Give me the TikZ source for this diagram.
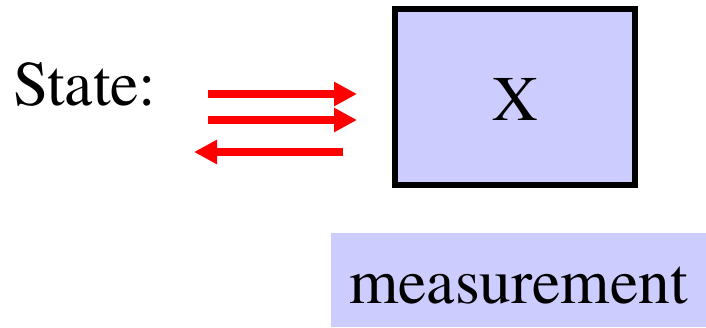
\documentclass[tikz,border=0pt]{standalone}
\usepackage{fontspec}
\newfontfamily\timesfont{texgyretermes}[Extension=.otf, UprightFont=*-regular]
\usetikzlibrary{arrows.meta}
\definecolor{boxfill}{RGB}{204,204,255}
\tikzset{
  bigtext/.style={font=\timesfont\fontsize{63.5}{70}\selectfont},
  redarrow/.style={draw=red, line width=8pt, -{Triangle[length=23pt,width=23pt]}},
}
\begin{document}
\begin{tikzpicture}[x=1pt,y=-1pt]
\useasboundingbox (0,0) rectangle (706,327);
\node[bigtext, anchor=base west, inner sep=0pt] (state) at (13,105) {State:};
\node[bigtext, draw=black, line width=6pt, fill=boxfill, minimum width=240pt, minimum height=176pt, inner sep=0pt, text height=46pt, text depth=0pt] (X) at (515,97) {X};
\node[bigtext, fill=boxfill, minimum width=375pt, minimum height=94pt, inner sep=0pt, text height=46pt, text depth=0pt] (meas) at (518.5,280) {measurement};
\coordinate (a1s) at (208,94);
\coordinate (a1e) at (357,94);
\coordinate (a2s) at (208,120);
\coordinate (a2e) at (357,120);
\coordinate (a3s) at (343,152);
\coordinate (a3e) at (194,152);
\draw[redarrow] (a1s) -- (a1e);
\draw[redarrow] (a2s) -- (a2e);
\draw[redarrow] (a3s) -- (a3e);
\end{tikzpicture}
\end{document}
